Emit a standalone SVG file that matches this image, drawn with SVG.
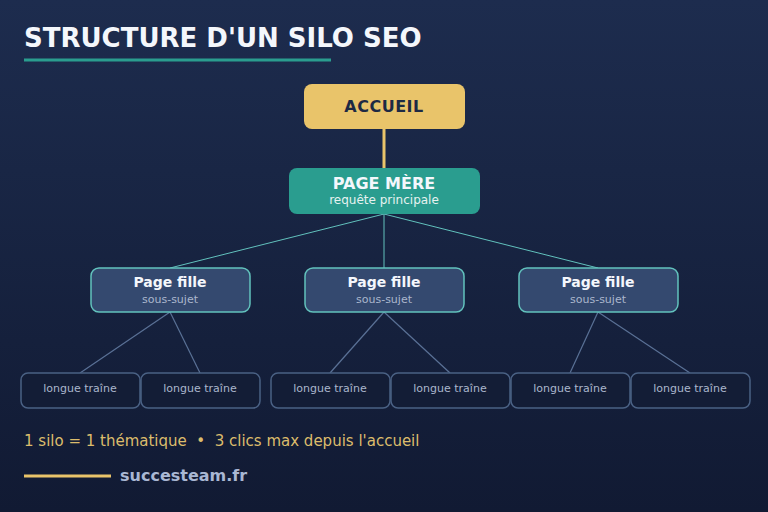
<svg xmlns="http://www.w3.org/2000/svg" width="768" height="512" viewBox="0 0 768 512">
<defs>
<linearGradient id="bg" x1="0" y1="0" x2="0" y2="1">
<stop offset="0" stop-color="#1d2c4e"/>
<stop offset="1" stop-color="#111a33"/>
</linearGradient>
<style>
text{font-family:"DejaVu Sans",sans-serif;text-anchor:middle}
.title{font-size:26px;font-weight:bold;fill:#f4f7fc;text-anchor:start}
.fille rect{fill:#34496f;stroke:#62c2bd;stroke-width:1.5}
.fille .t{font-size:14px;font-weight:bold;fill:#f4f7fc}
.fille .s{font-size:11px;fill:#aab6cc}
.lt rect{fill:#131d36;stroke:#4a6184;stroke-width:1.5}
.lt text{font-size:11px;fill:#aab6cc}
.c1{stroke:#62c2bd;stroke-width:1;fill:none}
.c2{stroke:#5a7196;stroke-width:1.2;fill:none}
</style>
</defs>
<rect width="768" height="512" fill="url(#bg)"/>
<text class="title" x="24" y="47">STRUCTURE D'UN SILO SEO</text>
<rect x="24" y="58.5" width="307" height="3" fill="#2a9d8f"/>

<g id="connectors">
<line x1="384" y1="129" x2="384" y2="168" stroke="#e9c46a" stroke-width="3"/>
<line class="c1" x1="384" y1="214" x2="170" y2="268"/>
<line class="c1" x1="384" y1="214" x2="384" y2="268" stroke-width="1.5"/>
<line class="c1" x1="384" y1="214" x2="598" y2="268"/>
<line class="c2" x1="170" y1="312" x2="80" y2="373"/>
<line class="c2" x1="170" y1="312" x2="200" y2="373"/>
<line class="c2" x1="384" y1="312" x2="330" y2="373"/>
<line class="c2" x1="384" y1="312" x2="450" y2="373"/>
<line class="c2" x1="598" y1="312" x2="570" y2="373"/>
<line class="c2" x1="598" y1="312" x2="690" y2="373"/>
</g>

<g id="accueil">
<rect x="304" y="84" width="161" height="45" rx="8" fill="#e9c46a"/>
<text x="384" y="112" font-size="16" font-weight="bold" fill="#1d2a44" letter-spacing="0.5">ACCUEIL</text>
</g>

<g id="page-mere">
<rect x="289" y="168" width="191" height="46" rx="8" fill="#2a9d8f"/>
<text x="384" y="189" font-size="16" font-weight="bold" fill="#f4f7fc">PAGE MÈRE</text>
<text x="384" y="204" font-size="12" fill="#e6f2f0">requête principale</text>
</g>

<g id="fille1" class="fille">
<rect x="91" y="268" width="159" height="44" rx="8"/>
<text class="t" x="170" y="287">Page fille</text>
<text class="s" x="170" y="303">sous-sujet</text>
</g>
<g id="fille2" class="fille">
<rect x="305" y="268" width="159" height="44" rx="8"/>
<text class="t" x="384" y="287">Page fille</text>
<text class="s" x="384" y="303">sous-sujet</text>
</g>
<g id="fille3" class="fille">
<rect x="519" y="268" width="159" height="44" rx="8"/>
<text class="t" x="598" y="287">Page fille</text>
<text class="s" x="598" y="303">sous-sujet</text>
</g>

<g id="lt1" class="lt"><rect x="21" y="373" width="119" height="35" rx="7"/><text x="80" y="392">longue traîne</text></g>
<g id="lt2" class="lt"><rect x="141" y="373" width="119" height="35" rx="7"/><text x="200" y="392">longue traîne</text></g>
<g id="lt3" class="lt"><rect x="271" y="373" width="119" height="35" rx="7"/><text x="330" y="392">longue traîne</text></g>
<g id="lt4" class="lt"><rect x="391" y="373" width="119" height="35" rx="7"/><text x="450" y="392">longue traîne</text></g>
<g id="lt5" class="lt"><rect x="511" y="373" width="119" height="35" rx="7"/><text x="570" y="392">longue traîne</text></g>
<g id="lt6" class="lt"><rect x="631" y="373" width="119" height="35" rx="7"/><text x="690" y="392">longue traîne</text></g>

<text x="24" y="446" font-size="15" fill="#dcbc6c" style="text-anchor:start" xml:space="preserve">1 silo = 1 thématique  •  3 clics max depuis l'accueil</text>
<rect x="24" y="474.5" width="87" height="3" fill="#e9c46a"/>
<text x="120" y="481" font-size="16" font-weight="bold" fill="#a9b7d3" style="text-anchor:start">succesteam.fr</text>
</svg>
